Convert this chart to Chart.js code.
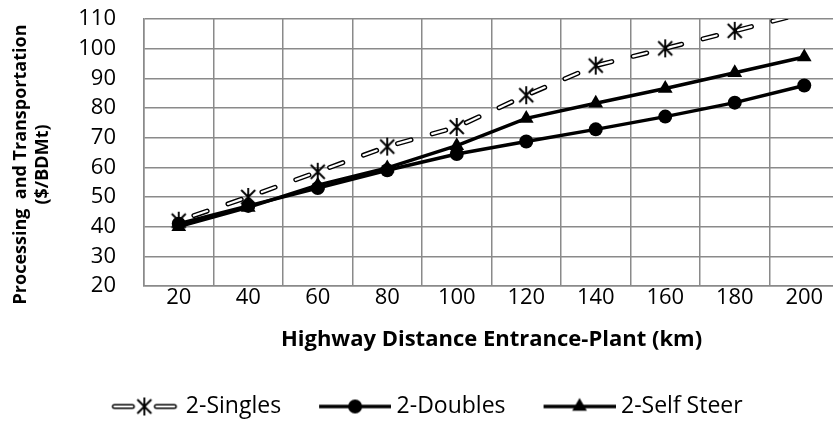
<!DOCTYPE html>
<html>
<head>
<meta charset="utf-8">
<script src="https://cdn.jsdelivr.net/npm/chart.js@4/dist/chart.umd.min.js"></script>
<style>
  html, body { margin: 0; padding: 0; overflow: hidden; background: #fff; width: 833px; height: 425px; }
  #wrap { position: absolute; left: 0; top: 0; width: 850px; height: 425px; }
</style>
</head>
<body>
<div id="wrap"><canvas id="c" width="850" height="425"></canvas></div>
<script>
// Highway distance (km) from forest entrance to plant
const distances = ['20', '40', '60', '80', '100', '120', '140', '160', '180', '200'];
// Processing + transportation cost ($/BDMt) by truck configuration
const singles   = [42, 50, 58.5, 67, 73.6, 84.3, 94.3, 100.1, 106, 112];
const doubles   = [41, 47, 53, 59, 64.5, 68.7, 72.8, 77.1, 81.8, 87.6];
const selfSteer = [40, 46.5, 54, 59.8, 67.3, 76.5, 81.6, 86.6, 91.9, 97.2];
const yTicks    = [20, 30, 40, 50, 60, 70, 80, 90, 100, 110];
const yTitleLines = ['Processing  and Transportation', '($/BDMt)'];
const xTitle = 'Highway Distance Entrance-Plant (km)';

const FONT = '"Open Sans", Lato, sans-serif';
const GRID = '#8a8a8a';
const Y_MAX = 110;

// Asterisk marker: an X crossed by a vertical stroke
function starMarker() {
  const cv = document.createElement('canvas');
  cv.width = 18; cv.height = 20;
  const g = cv.getContext('2d');
  g.strokeStyle = '#000'; g.lineWidth = 1.9;
  g.beginPath();
  g.moveTo(2, 3); g.lineTo(16, 17);
  g.moveTo(16, 3); g.lineTo(2, 17);
  g.moveTo(9, 1); g.lineTo(9, 19);
  g.stroke();
  return cv;
}

// Legend swatch: 72px line sample with the marker in its middle,
// placed at the right end of a wider transparent canvas (item spacing)
const SW_W = 90, SW_H = 22;
function swatch(kind) {
  const cv = document.createElement('canvas');
  cv.width = SW_W; cv.height = SW_H;
  const g = cv.getContext('2d');
  const x0 = SW_W - 72, cx = x0 + 36, cy = SW_H / 2;
  if (kind === 'singles') {
    g.lineCap = 'round';
    [[x0 + 6, x0 + 24], [x0 + 48, x0 + 66]].forEach(([a, b]) => {
      g.strokeStyle = '#000'; g.lineWidth = 5;
      g.beginPath(); g.moveTo(a, cy); g.lineTo(b, cy); g.stroke();
      g.strokeStyle = '#fff'; g.lineWidth = 2.2;
      g.beginPath(); g.moveTo(a, cy); g.lineTo(b, cy); g.stroke();
    });
    g.drawImage(starMarker(), cx - 9, cy - 10);
  } else {
    g.strokeStyle = '#000'; g.lineWidth = 3.5;
    g.beginPath(); g.moveTo(x0, cy); g.lineTo(x0 + 72, cy); g.stroke();
    g.fillStyle = '#000';
    g.beginPath();
    if (kind === 'doubles') {
      g.arc(cx, cy, 7, 0, Math.PI * 2);
    } else {
      const r = 8.5, s = Math.sin(2 * Math.PI / 3);
      g.moveTo(cx, cy - r);
      g.lineTo(cx + r * s, cy + r / 2);
      g.lineTo(cx - r * s, cy + r / 2);
      g.closePath();
    }
    g.fill();
  }
  return cv;
}

const star = starMarker();
const legendItems = [
  { text: '2-Singles', img: swatch('singles'), ds: 0 },
  { text: '2-Doubles', img: swatch('doubles'), ds: 2 },
  { text: '2-Self Steer', img: swatch('self'), ds: 3 }
];

// Two-line rotated y-axis title
const yTitlePlugin = {
  id: 'yTitle',
  afterDraw(chart) {
    const { ctx, chartArea: a } = chart;
    ctx.save();
    ctx.font = 'bold 18px ' + FONT;
    ctx.fillStyle = '#000';
    ctx.textAlign = 'center';
    ctx.textBaseline = 'middle';
    ctx.translate(21, (a.top + a.bottom) / 2 + 12);
    ctx.rotate(-Math.PI / 2);
    ctx.fillText(yTitleLines[0], 0, 0);
    ctx.fillText(yTitleLines[1], 0, 22);
    ctx.restore();
  }
};

// markers beyond the top of the value axis are not drawn
const insideRadius = r => ctx => (ctx.raw > Y_MAX ? 0 : r);

new Chart(document.getElementById('c'), {
  type: 'line',
  data: {
    labels: distances,
    datasets: [
      { // dashed outline of the hollow line
        label: '2-Singles', data: singles, order: 6,
        borderColor: '#000', borderWidth: 5, borderDash: [14, 22], borderDashOffset: 20,
        borderCapStyle: 'round', pointRadius: 0, tension: 0, fill: false
      },
      { // white core of the hollow line, with the asterisk markers
        label: '2-Singles core', data: singles, order: 5,
        borderColor: '#fff', borderWidth: 2.2, borderDash: [14, 22], borderDashOffset: 20,
        borderCapStyle: 'round', pointStyle: star, pointRadius: insideRadius(8), tension: 0, fill: false
      },
      {
        label: '2-Doubles', data: doubles, order: 2,
        borderColor: '#000', backgroundColor: '#000', borderWidth: 3.5,
        pointStyle: 'circle', pointRadius: insideRadius(7), pointBorderWidth: 0, tension: 0, fill: false
      },
      {
        label: '2-Self Steer', data: selfSteer, order: 1,
        borderColor: '#000', backgroundColor: '#000', borderWidth: 3.5,
        pointStyle: 'triangle', pointRadius: insideRadius(8.5), pointBorderWidth: 0, tension: 0, fill: false
      }
    ]
  },
  plugins: [yTitlePlugin],
  options: {
    responsive: false,
    animation: false,
    events: [],
    layout: { padding: { top: 19, right: 11, bottom: -3, left: 0 } },
    plugins: {
      tooltip: { enabled: false },
      legend: {
        position: 'bottom',
        labels: {
          usePointStyle: true,
          pointStyleWidth: 78,
          padding: 26,
          color: '#000',
          font: { family: FONT, size: 23, lineHeight: 1 },
          generateLabels: () => legendItems.map(it => ({
            text: it.text, pointStyle: it.img, datasetIndex: it.ds,
            fillStyle: '#000', strokeStyle: '#000', lineWidth: 0, hidden: false, fontColor: '#000'
          }))
        }
      }
    },
    scales: {
      x: {
        type: 'category',
        offset: true,
        grid: { offset: true, color: GRID, lineWidth: 1.5, drawTicks: false },
        border: { color: GRID, width: 1.5 },
        ticks: { color: '#000', padding: 1, font: { family: FONT, size: 22, lineHeight: 1 } },
        title: {
          display: true, text: xTitle, color: '#000',
          font: { family: FONT, size: 22, weight: 'bold', lineHeight: 1.1 }, padding: { top: 0, bottom: 17 }
        },
        afterFit: s => { s.height = 83; }
      },
      y: {
        min: 20, max: Y_MAX,
        grid: { color: GRID, lineWidth: 1.5, drawTicks: true, tickLength: 25, tickColor: 'rgba(0,0,0,0)' },
        border: { color: GRID, width: 1.5 },
        afterBuildTicks: s => { s.ticks = yTicks.map(v => ({ value: v })); },
        ticks: { color: '#000', padding: 3, font: { family: FONT, size: 22, lineHeight: 1 } },
        title: { display: false },
        afterFit: s => { s.width = 144; }
      }
    }
  }
});
</script>
</body>
</html>
